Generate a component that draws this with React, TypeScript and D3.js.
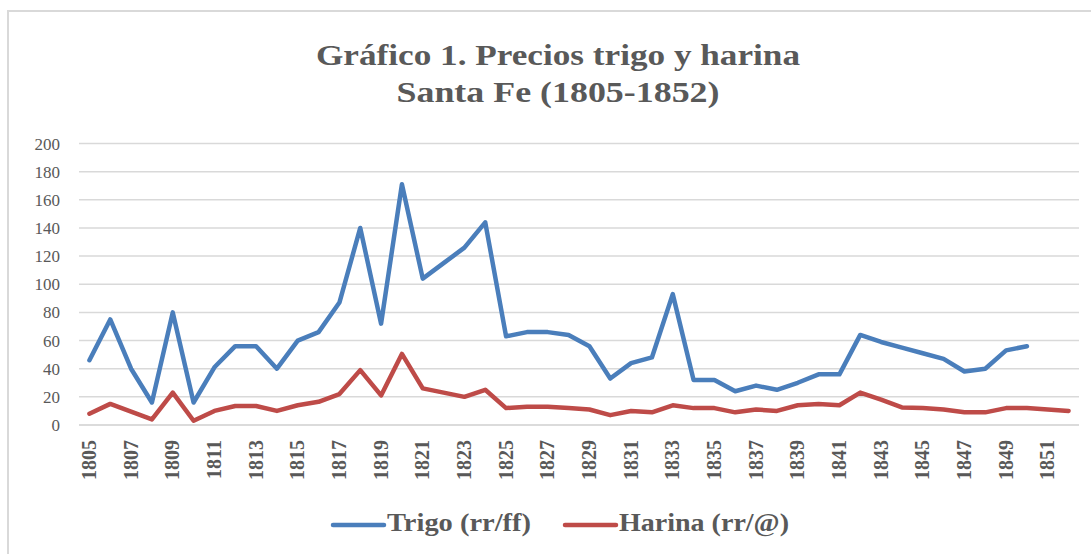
import React from 'react';
import * as d3 from 'd3';

// years on the category axis
const years: number[] = d3.range(1805, 1853);

// Trigo (rr/ff) -- no data for 1851, 1852
const trigo: (number | null)[] = [
  46, 75, 40, 16, 80, 16, 41, 56, 56, 40,
  60, 66, 87, 140, 72, 171, 104, 115, 126, 144,
  63, 66, 66, 64, 56, 33, 44, 48, 93, 32,
  32, 24, 28, 25, 30, 36, 36, 64, 59, 55,
  51, 47, 38, 40, 53, 56, null, null,
];

// Harina (rr/@)
const harina: number[] = [
  8, 15, 9.5, 4, 23, 3, 10, 13.5, 13.5, 10,
  14, 16.5, 22, 39, 21, 50.5, 26, 23, 20, 25,
  12, 13, 13, 12, 11, 7, 10, 9, 14, 12,
  12, 9, 11, 10, 14, 15, 14, 23, 18, 12.5,
  12, 11, 9, 9, 12, 12, 11, 10,
];

const yTicks: number[] = d3.range(0, 201, 20);
const titleLines: string[] = ['Gráfico 1. Precios trigo y harina', 'Santa Fe (1805-1852)'];

const W = 1091;
const H = 554;
const serif = '"Liberation Serif", "Times New Roman", serif';
const grey = '#595959';

export default function App() {
  const x = d3.scaleBand<number>().domain(years).range([79, 1079]);
  const y = d3.scaleLinear().domain([0, 200]).range([425, 143.5]);
  const cx = (yr: number) => (x(yr) as number) + x.bandwidth() / 2;

  const line = d3
    .line<number | null>()
    .defined((d) => d != null)
    .x((_, i) => cx(years[i]))
    .y((d) => y(d as number));

  const series = [
    { name: 'Trigo (rr/ff)', values: trigo, color: '#4a7ebb', lx: 333, tw: 144 },
    { name: 'Harina (rr/@)', values: harina, color: '#be4b48', lx: 565, tw: 170 },
  ];

  return (
    <svg width={W} height={H} style={{ position: 'absolute', left: 0, top: 0, background: '#fff' }}>
      <rect x={8} y={11} width={W + 10} height={H} fill="#fff" stroke="#d9d9d9" strokeWidth={2} />

      {titleLines.map((t, i) => (
        <text
          key={t}
          x={558}
          y={65 + i * 37}
          textAnchor="middle"
          fontFamily={serif}
          fontWeight="bold"
          fontSize={30}
          fill={grey}
          textLength={i === 0 ? 484 : 323}
          lengthAdjust="spacingAndGlyphs"
        >
          {t}
        </text>
      ))}

      {yTicks.map((v) => (
        <g key={v}>
          <line
            x1={79}
            x2={1079}
            y1={y(v)}
            y2={y(v)}
            stroke={v === 0 ? '#cfcfcf' : '#d9d9d9'}
            strokeWidth={1.5}
          />
          <text x={60} y={y(v) + 6} textAnchor="end" fontFamily={serif} fontSize={17} fill={grey}>
            {v}
          </text>
        </g>
      ))}

      {years
        .filter((yr) => (yr - 1805) % 2 === 0)
        .map((yr) => (
          <text
            key={yr}
            transform={`translate(${cx(yr) + 6.5},440) rotate(-90)`}
            textAnchor="end"
            fontFamily={serif}
            fontWeight="bold"
            fontSize={20}
            fill={grey}
          >
            {yr}
          </text>
        ))}

      {series.map((s) => (
        <path
          key={s.name}
          d={line(s.values) || ''}
          fill="none"
          stroke={s.color}
          strokeWidth={4.5}
          strokeLinejoin="round"
          strokeLinecap="round"
        />
      ))}

      {series.map((s) => (
        <g key={s.name}>
          <line x1={s.lx} x2={s.lx + 51} y1={525} y2={525} stroke={s.color} strokeWidth={4.5} strokeLinecap="round" />
          <text
            x={s.lx + 54}
            y={531}
            fontFamily={serif}
            fontWeight="bold"
            fontSize={25}
            fill={grey}
            textLength={s.tw}
            lengthAdjust="spacingAndGlyphs"
          >
            {s.name}
          </text>
        </g>
      ))}
    </svg>
  );
}
